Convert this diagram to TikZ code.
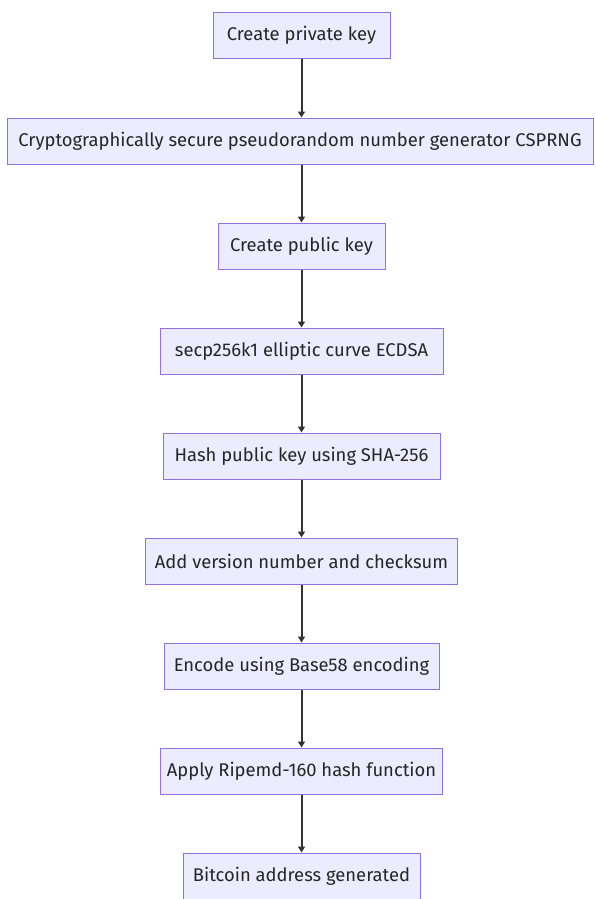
\documentclass[tikz,border=0pt]{standalone}
\usepackage{fontspec}
\setmainfont{Fira Sans}
\usetikzlibrary{arrows.meta}
\definecolor{boxfill}{HTML}{ECECFF}
\definecolor{boxline}{HTML}{9370DB}
\definecolor{linkcol}{HTML}{333333}
\begin{document}
\begin{tikzpicture}[x=1pt,y=-1pt,
  stepbox/.style={draw=boxline, fill=boxfill, line width=1pt, minimum height=46pt,
    inner sep=0pt, text=black!85, font=\fontsize{18.4}{22}\selectfont},
  link/.style={draw=linkcol, line width=2pt, -{Triangle[length=6pt,width=7pt]}}]
\useasboundingbox (0,0) rectangle (595,899);
\node[stepbox, minimum width=177pt] (n1) at (301.5,35.5) {Create private key};
\node[stepbox, minimum width=586pt] (n2) at (300,141) {Cryptographically secure pseudorandom number generator CSPRNG};
\node[stepbox, minimum width=167pt] (n3) at (301.5,246) {Create public key};
\node[stepbox, minimum width=283pt] (n4) at (301.5,351) {secp256k1 elliptic curve ECDSA};
\node[stepbox, minimum width=277pt] (n5) at (301.5,456) {Hash public key using SHA-256};
\node[stepbox, minimum width=312pt] (n6) at (301.5,561) {Add version number and checksum};
\node[stepbox, minimum width=275pt] (n7) at (301.5,666) {Encode using Base58 encoding};
\node[stepbox, minimum width=282pt] (n8) at (301.5,771) {Apply Ripemd-160 hash function};
\node[stepbox, minimum width=237pt] (n9) at (301.5,876) {Bitcoin address generated};
\foreach \a/\b in {n1/n2,n2/n3,n3/n4,n4/n5,n5/n6,n6/n7,n7/n8,n8/n9}
  \draw[link] (\a.south -| n1.south) -- (\b.north -| n1.south);
\end{tikzpicture}
\end{document}
